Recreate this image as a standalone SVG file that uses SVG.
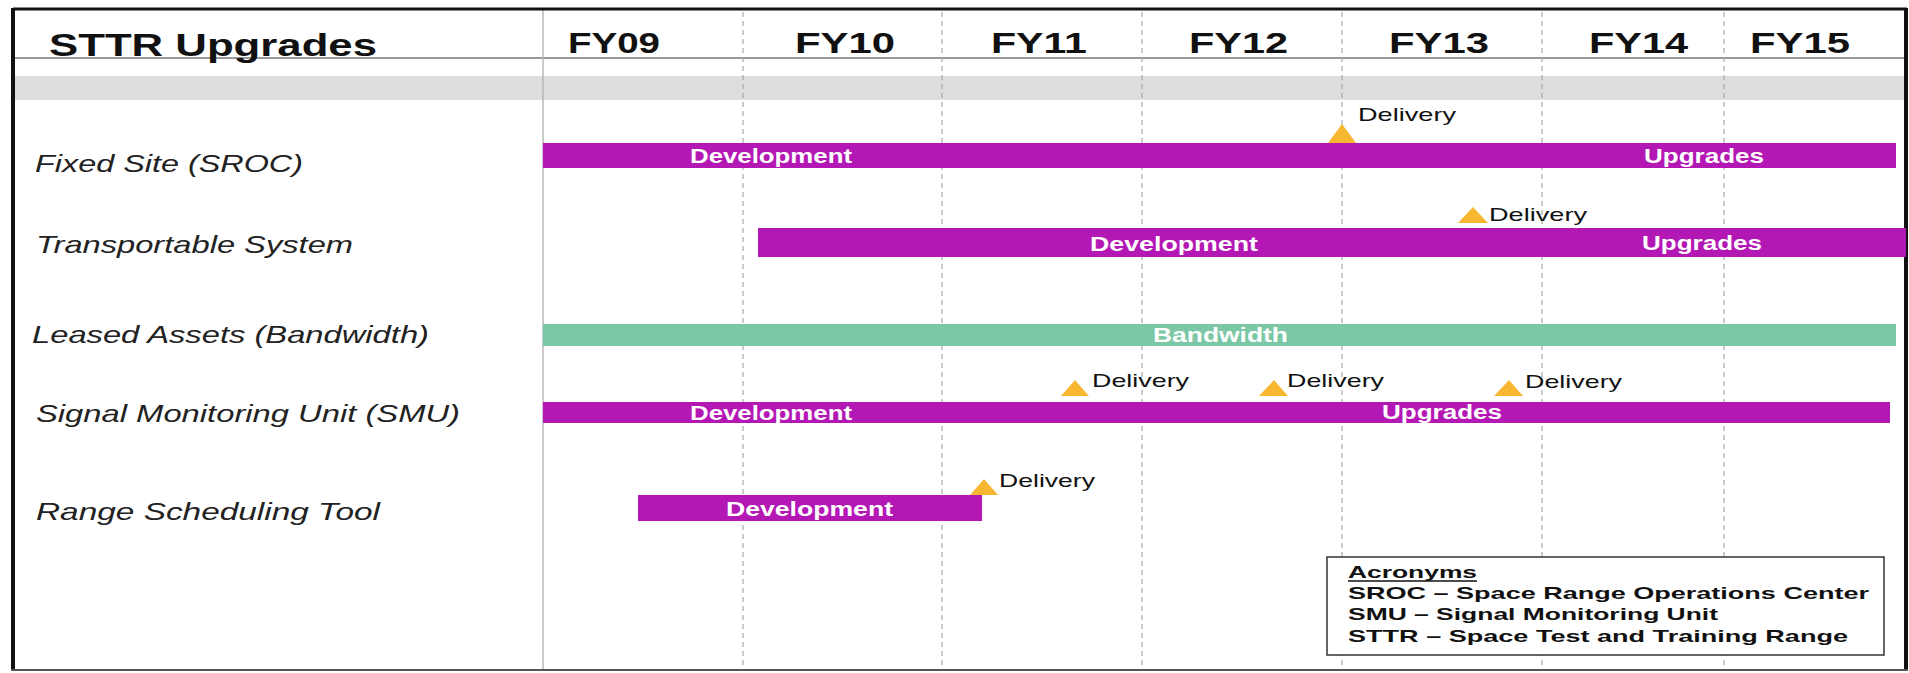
<svg xmlns="http://www.w3.org/2000/svg" width="1909" height="673" viewBox="0 0 1909 673">
  <style>
    .hdr { font-family: "Liberation Sans", Arial, sans-serif; font-weight: bold; fill: #111; }
    .row { font-family: "Liberation Sans", Arial, sans-serif; font-style: italic; font-size: 24px; fill: #222; }
    .bar { fill: #b418b4; }
    .bw { fill: #7cc7a6; }
    .blab { font-family: "Liberation Sans", Arial, sans-serif; font-weight: bold; font-size: 20px; fill: #ffffff; }
    .dlv { font-family: "Liberation Sans", Arial, sans-serif; font-size: 19px; fill: #111; }
    .tri { fill: #f7b731; }
    .grid { stroke: #a8a8a8; stroke-width: 1.2; stroke-dasharray: 5 4; }
    .acr { font-family: "Liberation Sans", Arial, sans-serif; font-weight: bold; font-size: 17px; fill: #111; }
  </style>

  <rect x="0" y="0" width="1909" height="673" fill="#ffffff"/>

  <!-- table frame and header -->
  <g id="frame">
    <rect x="15" y="76" width="1890" height="24" fill="#dddddd"/>
    <line x1="13" y1="58" x2="1906" y2="58" stroke="#777" stroke-width="1.5"/>
    <line x1="543" y1="10" x2="543" y2="669" stroke="#b8b8b8" stroke-width="1.5"/>
    <line x1="13" y1="9" x2="1907" y2="9" stroke="#111" stroke-width="3"/>
    <line x1="13" y1="8" x2="13" y2="671" stroke="#111" stroke-width="4"/>
    <line x1="1906" y1="8" x2="1906" y2="671" stroke="#111" stroke-width="4"/>
    <line x1="11" y1="670" x2="1908" y2="670" stroke="#555" stroke-width="2"/>
  </g>

  <!-- fiscal year grid -->
  <g id="grid">
    <line class="grid" x1="743" y1="12" x2="743" y2="669"/>
    <line class="grid" x1="942" y1="12" x2="942" y2="669"/>
    <line class="grid" x1="1142" y1="12" x2="1142" y2="669"/>
    <line class="grid" x1="1342" y1="12" x2="1342" y2="669"/>
    <line class="grid" x1="1542" y1="12" x2="1542" y2="669"/>
    <line class="grid" x1="1724" y1="12" x2="1724" y2="669"/>
  </g>

  <g id="header">
    <text class="hdr" x="49" y="56" font-size="32" textLength="328" lengthAdjust="spacingAndGlyphs">STTR Upgrades</text>
    <text class="hdr" x="568" y="53" font-size="30" textLength="92" lengthAdjust="spacingAndGlyphs">FY09</text>
    <text class="hdr" x="795" y="53" font-size="30" textLength="100" lengthAdjust="spacingAndGlyphs">FY10</text>
    <text class="hdr" x="991" y="53" font-size="30" textLength="96" lengthAdjust="spacingAndGlyphs">FY11</text>
    <text class="hdr" x="1189" y="53" font-size="30" textLength="99" lengthAdjust="spacingAndGlyphs">FY12</text>
    <text class="hdr" x="1389" y="53" font-size="30" textLength="100" lengthAdjust="spacingAndGlyphs">FY13</text>
    <text class="hdr" x="1589" y="53" font-size="30" textLength="99" lengthAdjust="spacingAndGlyphs">FY14</text>
    <text class="hdr" x="1750" y="53" font-size="30" textLength="100" lengthAdjust="spacingAndGlyphs">FY15</text>
  </g>

  <g id="fixed-site">
    <text class="row" x="35" y="172" textLength="268" lengthAdjust="spacingAndGlyphs">Fixed Site (SROC)</text>
    <rect class="bar" x="543" y="143" width="1353" height="25"/>
    <text class="blab" x="690" y="163" textLength="162" lengthAdjust="spacingAndGlyphs">Development</text>
    <text class="blab" x="1644" y="163" textLength="120" lengthAdjust="spacingAndGlyphs">Upgrades</text>
    <polygon class="tri" points="1328,143 1342,124 1356,143"/>
    <text class="dlv" x="1358" y="121" textLength="98" lengthAdjust="spacingAndGlyphs">Delivery</text>
  </g>

  <g id="transportable-system">
    <text class="row" x="36" y="253" textLength="317" lengthAdjust="spacingAndGlyphs">Transportable System</text>
    <rect class="bar" x="758" y="228" width="1148" height="29"/>
    <text class="blab" x="1090" y="251" textLength="168" lengthAdjust="spacingAndGlyphs">Development</text>
    <text class="blab" x="1642" y="250" textLength="120" lengthAdjust="spacingAndGlyphs">Upgrades</text>
    <polygon class="tri" points="1458,223 1473,207 1488,223"/>
    <text class="dlv" x="1489" y="221" textLength="98" lengthAdjust="spacingAndGlyphs">Delivery</text>
  </g>

  <g id="leased-assets">
    <text class="row" x="32" y="343" textLength="397" lengthAdjust="spacingAndGlyphs">Leased Assets (Bandwidth)</text>
    <rect class="bw" x="543" y="324" width="1353" height="22"/>
    <text class="blab" x="1153" y="342" textLength="135" lengthAdjust="spacingAndGlyphs">Bandwidth</text>
  </g>

  <g id="signal-monitoring-unit">
    <text class="row" x="36" y="422" textLength="424" lengthAdjust="spacingAndGlyphs">Signal Monitoring Unit (SMU)</text>
    <rect class="bar" x="543" y="402" width="1347" height="21"/>
    <text class="blab" x="690" y="420" textLength="162" lengthAdjust="spacingAndGlyphs">Development</text>
    <text class="blab" x="1382" y="419" textLength="120" lengthAdjust="spacingAndGlyphs">Upgrades</text>
    <polygon class="tri" points="1061,396 1075,380 1089,396"/>
    <text class="dlv" x="1092" y="387" textLength="97" lengthAdjust="spacingAndGlyphs">Delivery</text>
    <polygon class="tri" points="1259,396 1274,380 1288,396"/>
    <text class="dlv" x="1287" y="387" textLength="97" lengthAdjust="spacingAndGlyphs">Delivery</text>
    <polygon class="tri" points="1494,396 1509,380 1523,396"/>
    <text class="dlv" x="1525" y="388" textLength="97" lengthAdjust="spacingAndGlyphs">Delivery</text>
  </g>

  <g id="range-scheduling-tool">
    <text class="row" x="36" y="520" textLength="344" lengthAdjust="spacingAndGlyphs">Range Scheduling Tool</text>
    <rect class="bar" x="638" y="495" width="344" height="26"/>
    <text class="blab" x="726" y="516" textLength="167" lengthAdjust="spacingAndGlyphs">Development</text>
    <polygon class="tri" points="970,495 984,479 998,495"/>
    <text class="dlv" x="999" y="487" textLength="96" lengthAdjust="spacingAndGlyphs">Delivery</text>
  </g>

  <g id="acronyms">
    <rect x="1327" y="557" width="557" height="98" fill="#ffffff" stroke="#333" stroke-width="1.5"/>
    <text class="acr" x="1348" y="578" textLength="129" lengthAdjust="spacingAndGlyphs">Acronyms</text>
    <line x1="1348" y1="581" x2="1477" y2="581" stroke="#111" stroke-width="1.3"/>
    <text class="acr" x="1348" y="599" textLength="521" lengthAdjust="spacingAndGlyphs">SROC – Space Range Operations Center</text>
    <text class="acr" x="1348" y="620" textLength="370" lengthAdjust="spacingAndGlyphs">SMU – Signal Monitoring Unit</text>
    <text class="acr" x="1348" y="642" textLength="500" lengthAdjust="spacingAndGlyphs">STTR – Space Test and Training Range</text>
  </g>
</svg>
